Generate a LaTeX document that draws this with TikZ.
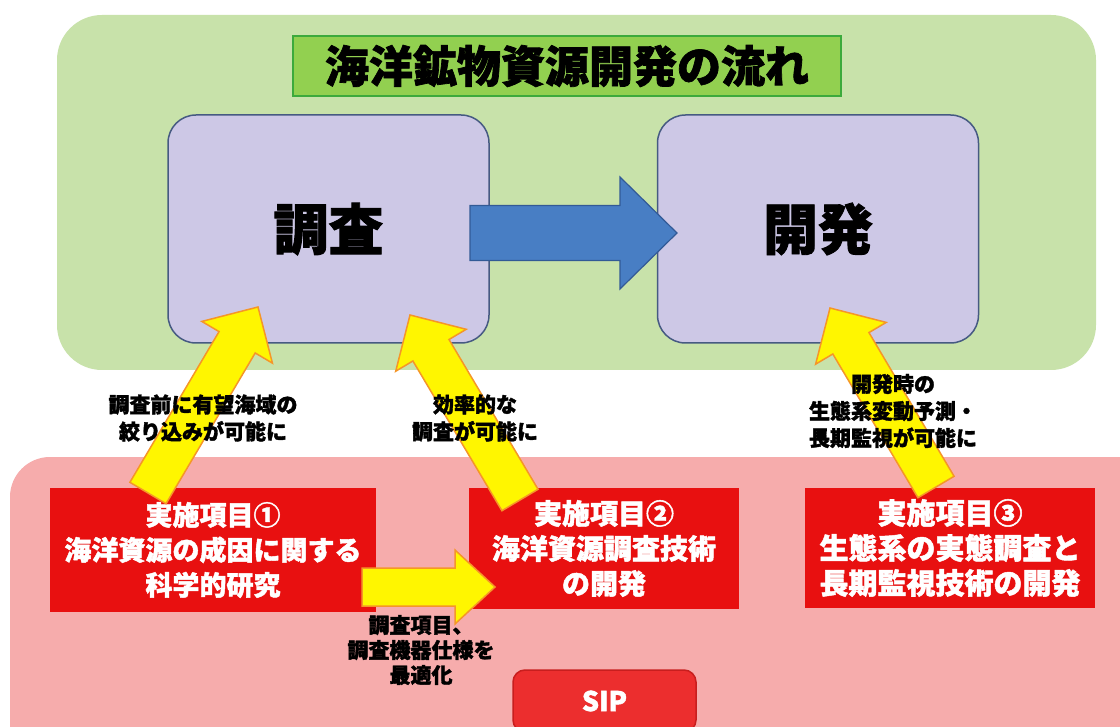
\documentclass[tikz,border=0pt]{standalone}
\usepackage{fontspec}
\setmainfont{Noto Sans CJK JP}[BoldFeatures={FakeBold=1.6}]
\usetikzlibrary{calc}
\definecolor{greenbg}{RGB}{200,226,170}
\definecolor{titlefill}{RGB}{146,208,80}
\definecolor{titleborder}{RGB}{60,170,60}
\definecolor{lav}{RGB}{205,200,230}
\definecolor{lavborder}{RGB}{70,90,130}
\definecolor{bluearrow}{RGB}{72,126,196}
\definecolor{blueborder}{RGB}{50,90,150}
\definecolor{pinkbg}{RGB}{246,172,172}
\definecolor{redbox}{RGB}{232,16,16}
\definecolor{sipfill}{RGB}{236,46,46}
\definecolor{sipborder}{RGB}{200,30,30}
\definecolor{arrowyellow}{RGB}{255,246,0}
\definecolor{arroworange}{RGB}{245,150,40}
\newcommand\fatarrow[6]{%
  \pgfpointdiff{\pgfpointanchor{#2}{center}}{\pgfpointanchor{#3}{center}}%
  \pgfgetlastxy{\faDx}{\faDy}%
  \pgfmathsetmacro\faAng{atan2(\faDy,\faDx)}%
  \pgfmathsetmacro\faLen{veclen(\faDx,\faDy)}%
  \draw[#1, shift={(#2)}, rotate=\faAng] (0,-#4) -- ({\faLen-#6},-#4) -- ({\faLen-#6},-#5) -- (\faLen,0) -- ({\faLen-#6},#5) -- ({\faLen-#6},#4) -- (0,#4) -- cycle;}
\begin{document}
\begin{tikzpicture}[x=1pt,y=-1pt,
  titlebox/.style={draw=titleborder, line width=2pt, fill=titlefill, minimum width=548pt, minimum height=60pt, inner sep=0pt, font=\fontsize{44pt}{48pt}\selectfont\bfseries},
  phase/.style={draw=lavborder, line width=1.5pt, fill=lav, rounded corners=28pt, minimum width=321pt, minimum height=228pt, inner sep=0pt, font=\fontsize{55pt}{60pt}\selectfont\bfseries},
  item/.style={fill=redbox, text=white, align=center, inner sep=0pt},
  note/.style={align=center, inner sep=0pt, font=\fontsize{21pt}{27pt}\selectfont\bfseries},
  yarrow/.style={fill=arrowyellow, draw=arroworange, line width=1.5pt, line join=miter},
  barrow/.style={fill=bluearrow, draw=blueborder, line width=1.2pt},
  sipbox/.style={fill=sipfill, draw=sipborder, line width=1.5pt, rounded corners=12pt, minimum width=183pt, minimum height=62pt, inner sep=0pt, text=white, font=\fontsize{27pt}{30pt}\selectfont\bfseries}]
\useasboundingbox (0,0) rectangle (1120,727);
\fill[white] (0,0) rectangle (1120,727);
\fill[greenbg, rounded corners=45pt] (57,15) rectangle (1096,370);
\fill[pinkbg, rounded corners=40pt] (10,457) rectangle (1160,780);

\node[titlebox] (ttl) at (567,66) {海洋鉱物資源開発の流れ};
\node[phase] (survey) at (328.5,229) {調査};
\node[phase] (dev) at (818,229) {開発};

\coordinate (b1) at (470,233);
\coordinate (b2) at (677,233);
\fatarrow{barrow}{b1}{b2}{27.5}{56}{57}

\node[item, minimum width=326pt, minimum height=124pt, font=\fontsize{27pt}{35pt}\selectfont\bfseries] (it1) at (213,550) {実施項目①\\海洋資源の成因に関する\\科学的研究};
\node[item, minimum width=270pt, minimum height=121pt, font=\fontsize{28pt}{35pt}\selectfont\bfseries] (it2) at (604,548.5) {実施項目②\\海洋資源調査技術\\の開発};
\node[item, minimum width=290pt, minimum height=120pt, font=\fontsize{29pt}{35pt}\selectfont\bfseries] (it3) at (950,548) {実施項目③\\生態系の実態調査と\\長期監視技術の開発};

\coordinate (y1s) at (148,493);
\coordinate (y1e) at (258,307);
\coordinate (y2s) at (520,500);
\coordinate (y2e) at (410,315);
\coordinate (y3s) at (936,487);
\coordinate (y3e) at (830,308);
\coordinate (y4s) at (362,587);
\coordinate (y4e) at (495,587);
\fatarrow{yarrow}{y1s}{y1e}{21}{41}{41}
\fatarrow{yarrow}{y2s}{y2e}{21}{41}{41}
\fatarrow{yarrow}{y3s}{y3e}{21}{41}{41}
\fatarrow{yarrow}{y4s}{y4e}{19}{37}{40}

\node[note] (n1) at (203,418) {調査前に有望海域の\\絞り込みが可能に};
\node[note] (n2) at (475,418) {効率的な\\調査が可能に};
\node[note] (n3) at (893,411) {開発時の\\生態系変動予測・\\長期監視が可能に};
\node[note, font=\fontsize{21pt}{25pt}\selectfont\bfseries] (n4) at (421,650) {調査項目、\\調査機器仕様を\\最適化};

\node[sipbox] (sip) at (604.5,701) {SIP};
\end{tikzpicture}
\end{document}
